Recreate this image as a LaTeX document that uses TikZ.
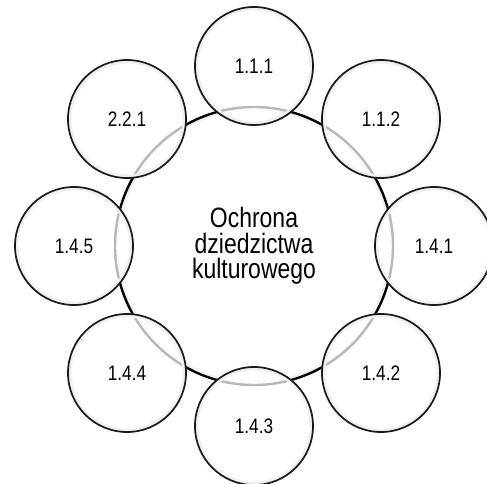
\documentclass[tikz,border=0pt]{standalone}
\usepackage{fontspec}
\setmainfont{Liberation Sans}[FakeStretch=0.82]
\begin{document}
\begin{tikzpicture}[x=1pt,y=-1pt,
  halo/.style={draw=black!20, line width=4pt},
  disc/.style={fill=white, fill opacity=0.72},
  rim/.style={draw=black!90, line width=1.7pt, draw opacity=1},
  bigrim/.style={draw=black, line width=2.4pt, draw opacity=1},
  small/.style={circle, minimum size=118pt, inner sep=0pt, font=\fontsize{21}{22}\selectfont},
  big/.style={circle, minimum size=278pt, inner sep=0pt, align=center, font=\fontsize{28}{25.5}\selectfont}]
\useasboundingbox (0,0) rectangle (487,483);
\fill[white] (0,0) rectangle (487,483);
\coordinate (cc) at (254,246);
\draw[halo] (cc) circle[radius=137.5];
\fill[disc] (cc) circle[radius=139];
\draw[bigrim] (cc) circle[radius=139];
\node[big] (c) at (cc) {Ochrona\\dziedzictwa\\kulturowego};
\foreach \nm/\x/\y/\t in {n111/254/66/1.1.1, n112/381/119/1.1.2, n141/434/246/1.4.1,
  n142/381/373/1.4.2, n143/254/426/1.4.3, n144/127/373/1.4.4, n145/74/246/1.4.5,
  n221/127/119/2.2.1}{
  \draw[halo] (\x,\y) circle[radius=57.5];
  \fill[disc] (\x,\y) circle[radius=59];
  \draw[rim] (\x,\y) circle[radius=59];
  \node[small] (\nm) at (\x,\y) {\t};
}
\end{tikzpicture}
\end{document}
